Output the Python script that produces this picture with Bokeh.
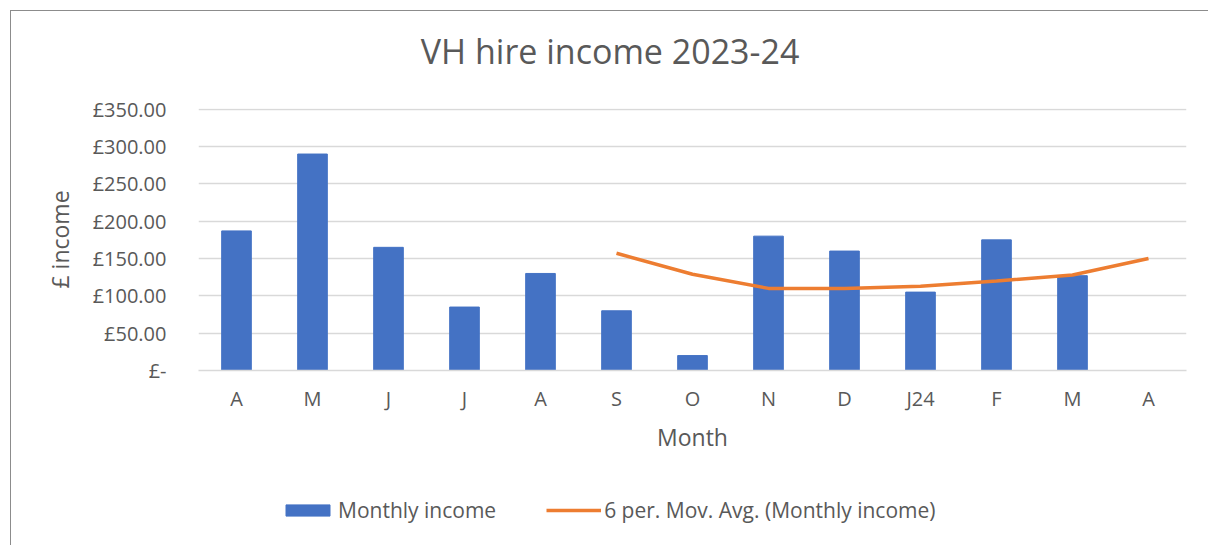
from bokeh.plotting import figure
from bokeh.models import ColumnDataSource, Range1d, FixedTicker, Legend, LegendItem, Label
from bokeh.layouts import column
from bokeh.embed import file_html
from bokeh.resources import INLINE

months = ["A", "M", "J", "J", "A", "S", "O", "N", "D", "J24", "F", "M", "A"]
income = [187, 290, 165, 85, 130, 80, 20, 180, 160, 105, 175, 127, None]
mov_avg = [None, None, None, None, None, 157, 129, 110, 110, 113, 120, 128, 150]
y_ticks = [0, 50, 100, 150, 200, 250, 300, 350]
y_tick_labels = ["£-", "£50.00", "£100.00", "£150.00", "£200.00", "£250.00", "£300.00", "£350.00"]
title_text = "VH hire income  2023-24"

FONT = "Open Sans"
TXT = "#595959"
BAR = "#4472C4"
LINE = "#ED7D31"
BORDER = "1px solid #8c8c8c"

idx = list(range(len(months)))
nan = float("nan")
src = ColumnDataSource(dict(
    x=idx,
    inc=[v if v is not None else nan for v in income],
    ma=[v if v is not None else nan for v in mov_avg],
))

# title strip
tt = figure(width=1198, height=84, output_backend="svg", toolbar_location=None,
            x_axis_location=None, y_axis_location=None,
            x_range=Range1d(0, 1), y_range=Range1d(0, 1),
            min_border_left=0, min_border_right=0, min_border_top=0, min_border_bottom=0,
            margin=(10, 0, 0, 10))
tt.styles = {"border-top": BORDER, "border-left": BORDER}
tt.grid.visible = False
tt.outline_line_color = None
tt.add_layout(Label(x=416, y=45, x_units="screen", y_units="screen", text=title_text,
                    text_font=FONT, text_font_size="34px", text_color=TXT,
                    text_align="center", text_baseline="middle"))

# main chart
p = figure(width=1198, height=391, output_backend="svg", toolbar_location=None,
           x_range=Range1d(-0.5, len(months) - 0.5), y_range=Range1d(0, 351),
           min_border_left=187, min_border_right=23, min_border_top=14, min_border_bottom=115,
           margin=(0, 0, 0, 10))
p.styles = {"border-left": BORDER}
p.outline_line_color = None
p.background_fill_color = "white"
p.border_fill_color = "white"

p.vbar(x="x", top="inc", width=0.39, source=src, fill_color=BAR, line_color=BAR)
p.line(x="x", y="ma", source=src, line_color=LINE, line_width=3.5)

p.xgrid.grid_line_color = None
p.ygrid.grid_line_color = "#D9D9D9"
p.ygrid.grid_line_width = 1.3

p.yaxis.ticker = FixedTicker(ticks=y_ticks)
p.yaxis.major_label_overrides = {t: l for t, l in zip(y_ticks, y_tick_labels)}
p.xaxis.ticker = FixedTicker(ticks=idx)
p.xaxis.major_label_overrides = {i: m for i, m in zip(idx, months)}

for ax in (p.xaxis[0], p.yaxis[0]):
    ax.major_tick_line_color = None
    ax.minor_tick_line_color = None
    ax.major_label_text_font = FONT
    ax.major_label_text_font_size = "20px"
    ax.major_label_text_color = TXT
    ax.axis_label_text_font = FONT
    ax.axis_label_text_font_size = "23px"
    ax.axis_label_text_color = TXT
    ax.axis_label_text_font_style = "normal"

p.yaxis.axis_line_color = None
p.xaxis.axis_line_color = "#D9D9D9"
p.xaxis.axis_line_width = 1.3
p.yaxis.major_label_standoff = 26
p.xaxis.major_label_standoff = 8
p.yaxis.axis_label = "£ income"
p.xaxis.axis_label = "Month"
p.yaxis.axis_label_standoff = 14
p.xaxis.axis_label_standoff = 6

# legend strip (its renderers share the chart data but lie outside its visible range)
lg = figure(width=1198, height=60, output_backend="svg", toolbar_location=None,
            x_axis_location=None, y_axis_location=None,
            x_range=Range1d(1000, 2000), y_range=Range1d(1000, 2000),
            min_border_left=0, min_border_right=0, min_border_top=0, min_border_bottom=0,
            margin=(0, 0, 0, 10))
lg.styles = {"border-left": BORDER}
lg.grid.visible = False
lg.outline_line_color = None
lg_bar = lg.vbar(x="x", top="inc", width=0.39, source=src, fill_color=BAR, line_color=BAR)
lg_line = lg.line(x="x", y="ma", source=src, line_color=LINE, line_width=3.5)

legend = Legend(items=[LegendItem(label="Monthly income", renderers=[lg_bar]),
                       LegendItem(label="6 per. Mov. Avg. (Monthly income)", renderers=[lg_line])],
                location=(82, 21), orientation="horizontal",
                glyph_width=55, glyph_height=14, label_standoff=3, spacing=50,
                padding=0, margin=0, border_line_color=None, background_fill_alpha=0,
                label_text_font=FONT, label_text_font_size="21px", label_text_color=TXT)
lg.add_layout(legend, "center")

layout = column(tt, p, lg, spacing=0)
open("out.html", "w").write(file_html(layout, INLINE))
